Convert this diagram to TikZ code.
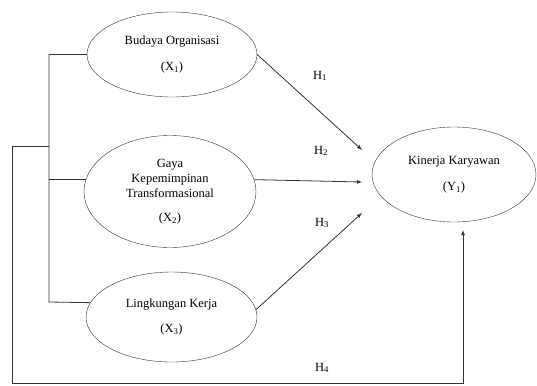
\documentclass[tikz,border=0pt]{standalone}
\usepackage{fontspec}
\setmainfont{Liberation Serif}
\usetikzlibrary{shapes,arrows,positioning}

\begin{document}
\begin{tikzpicture}[x=1pt,y=-1pt,>=latex,
  var/.style={draw=black!80, ellipse, inner sep=0pt, align=center, font=\fontsize{12.5}{15}\selectfont},
  hyp/.style={font=\fontsize{12.5}{15}\selectfont},
  link/.style={draw=black!80, line width=0.8pt}]
\useasboundingbox (0,0) rectangle (537,385);
\node[var, minimum width=170pt, minimum height=85pt] (x1) at (172,54.5) {Budaya Organisasi\\[11pt](X\textsubscript{1})};
\node[var, minimum width=172pt, minimum height=112pt] (x2) at (170,191.5) {Gaya\\Kepemimpinan\\Transformasional\\[9pt](X\textsubscript{2})};
\node[var, minimum width=171pt, minimum height=90pt] (x3) at (171.5,317) {Lingkungan Kerja\\[10pt](X\textsubscript{3})};
\node[var, minimum width=164pt, minimum height=95pt] (y1) at (454,174.5) {Kinerja Karyawan\\[11pt](Y\textsubscript{1})};

\coordinate (bus) at (49,146);
\coordinate (e1) at (362,150);
\coordinate (e2) at (362,182);
\coordinate (e3) at (362,213);
\coordinate (e4) at (463,230);

\draw[link] (x1.west) -| (49,302) -- (x3.170);
\draw[link] (x2.172) -- (x2.172 -| bus);
\draw[link, ->] (bus) -- (12,146) -- (12,383) -| (e4);

\draw[link, ->] (x1.east) -- (e1);
\draw[link, ->] (x2.8) -- (e2);
\draw[link, ->] (x3.5) -- (e3);

\node[hyp] (h1) at (320,76) {H\textsubscript{1}};
\node[hyp] (h2) at (321,151) {H\textsubscript{2}};
\node[hyp] (h3) at (322,223) {H\textsubscript{3}};
\node[hyp] (h4) at (322,368) {H\textsubscript{4}};
\end{tikzpicture}
\end{document}
